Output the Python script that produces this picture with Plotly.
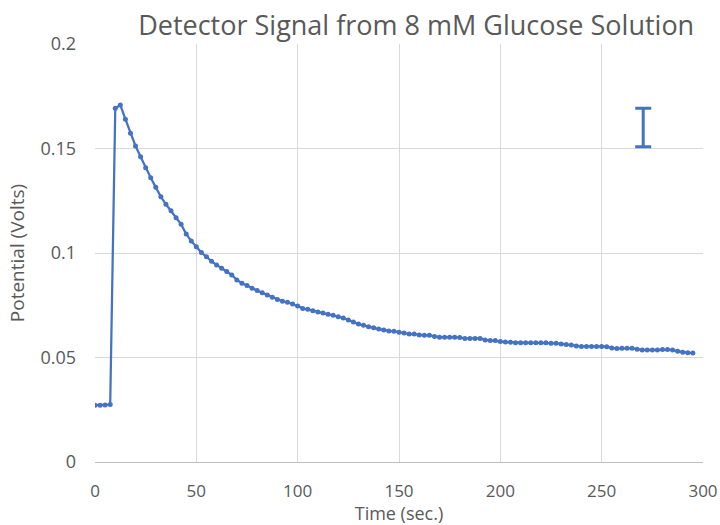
import plotly.graph_objects as go

time_s = [2.5 * i for i in range(119)]
potential_v = [
    0.0272, 0.0272, 0.0273, 0.0275, 0.1692, 0.1708, 0.1640, 0.1573, 0.1512, 0.1461,
    0.1408, 0.1360, 0.1314, 0.1269, 0.1233, 0.1202, 0.1169, 0.1137, 0.1091, 0.1057,
    0.1030, 0.1002, 0.0982, 0.0960, 0.0943, 0.0927, 0.0911, 0.0895, 0.0871, 0.0855,
    0.0845, 0.0831, 0.0820, 0.0810, 0.0799, 0.0788, 0.0778, 0.0769, 0.0764, 0.0756,
    0.0746, 0.0735, 0.0731, 0.0724, 0.0718, 0.0713, 0.0707, 0.0702, 0.0695, 0.0689,
    0.0679, 0.0670, 0.0660, 0.0654, 0.0647, 0.0642, 0.0636, 0.0632, 0.0627, 0.0626,
    0.0621, 0.0617, 0.0612, 0.0612, 0.0608, 0.0606, 0.0606, 0.0600, 0.0597, 0.0597,
    0.0597, 0.0597, 0.0596, 0.0591, 0.0591, 0.0591, 0.0591, 0.0584, 0.0581, 0.0581,
    0.0576, 0.0574, 0.0573, 0.0571, 0.0571, 0.0571, 0.0571, 0.0571, 0.0571, 0.0571,
    0.0568, 0.0568, 0.0565, 0.0562, 0.0560, 0.0555, 0.0553, 0.0553, 0.0553, 0.0553,
    0.0553, 0.0552, 0.0546, 0.0543, 0.0544, 0.0544, 0.0544, 0.0540, 0.0536, 0.0536,
    0.0536, 0.0536, 0.0538, 0.0538, 0.0536, 0.0530, 0.0525, 0.0523, 0.0521,
]

err_x = [270.5]
err_y = [0.160]
err_half = [0.0092]

x_ticks = [0, 50, 100, 150, 200, 250, 300]
y_ticks = [0, 0.05, 0.1, 0.15, 0.2]
y_tick_text = ["0", "0.05", "0.1", "0.15", "0.2"]

blue = "#4472C4"
gray = "#595959"
font_family = "Open Sans, Liberation Sans, sans-serif"

fig = go.Figure()
fig.add_trace(go.Scatter(
    x=time_s, y=potential_v, mode="lines+markers",
    line=dict(color=blue, width=2.25),
    marker=dict(color=blue, size=5),
    showlegend=False, hoverinfo="x+y",
))
fig.add_trace(go.Scatter(
    x=err_x, y=err_y, mode="markers",
    marker=dict(size=0.1, color=blue, opacity=0),
    error_y=dict(type="data", array=err_half, symmetric=True,
                 color=blue, thickness=3, width=8),
    showlegend=False, hoverinfo="skip",
))

fig.update_layout(
    width=720, height=525,
    margin=dict(l=95, r=17, t=44, b=63, autoexpand=False),
    plot_bgcolor="white", paper_bgcolor="white",
    font=dict(family=font_family, color=gray),
    title=dict(text="Detector Signal from 8 mM Glucose Solution",
               x=0.578, xanchor="center", y=0.952, yanchor="middle",
               font=dict(size=27, color=gray, family=font_family),
               automargin=False),
)
fig.update_xaxes(
    range=[0, 300], tickvals=x_ticks, ticks="",
    showgrid=True, gridcolor="#D9D9D9", gridwidth=1,
    zeroline=False, showline=False, automargin=False,
    tickfont=dict(size=17, color=gray), ticklabelstandoff=17,
    title=dict(text="Time (sec.)", font=dict(size=18, color=gray), standoff=4),
)
fig.update_yaxes(
    range=[0, 0.2], tickvals=y_ticks, ticktext=y_tick_text, ticks="",
    showgrid=True, gridcolor="#D9D9D9", gridwidth=1,
    zeroline=True, zerolinecolor="#BFBFBF", zerolinewidth=1.3,
    showline=False, automargin=False,
    tickfont=dict(size=18, color=gray), ticklabelstandoff=18,
    title=dict(text="Potential (Volts)", font=dict(size=19, color=gray), standoff=10),
)

fig.write_html("out.html", config={"displayModeBar": False},
               post_script="document.body.style.margin='0px';")
